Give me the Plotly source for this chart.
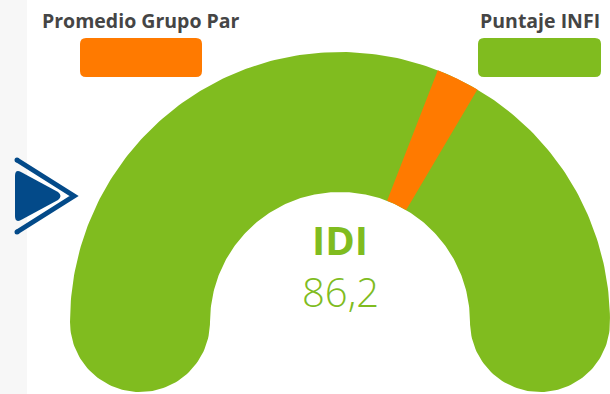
import numpy as np
import plotly.graph_objects as go

# --- data ---------------------------------------------------------------
indicator = ["IDI"]
score_infi = [86.2]            # Puntaje INFI
group_average = [64.4]         # Promedio Grupo Par
scale_limits = [0, 100]
series_names = ["Promedio Grupo Par", "Puntaje INFI"]

# --- styling ------------------------------------------------------------
GREEN = "#80BC1F"
ORANGE = "#FF7A00"
BLUE = "#034A89"
TEXT = "#454545"
W, H = 610, 394

# gauge geometry (pixel-sized data units, y axis pointing up)
CX, CY = 340, H - 322
R_OUT, R_IN = 270, 130
R_CAP = (R_OUT - R_IN) / 2
R_MID = (R_OUT + R_IN) / 2
MARK_HALF = 2.6  # half width of the average marker, in scale units


def angle_of(v):
    lo, hi = scale_limits
    return np.pi * (1 - (v - lo) / (hi - lo))


def track_path():
    a = np.linspace(np.pi, 0, 200)
    xs = list(CX + R_OUT * np.cos(a))
    ys = list(CY + R_OUT * np.sin(a))
    # right rounded end
    c = np.linspace(0, -np.pi, 80)
    xs += list(CX + R_MID + R_CAP * np.cos(c))
    ys += list(CY + R_CAP * np.sin(c))
    a = np.linspace(0, np.pi, 200)
    xs += list(CX + R_IN * np.cos(a))
    ys += list(CY + R_IN * np.sin(a))
    # left rounded end
    xs += list(CX - R_MID + R_CAP * np.cos(c))
    ys += list(CY + R_CAP * np.sin(c))
    return xs, ys


def wedge_path(v0, v1):
    a = np.linspace(angle_of(v0), angle_of(v1), 30)
    xs = list(CX + R_OUT * np.cos(a)) + list(CX + R_IN * np.cos(a[::-1]))
    ys = list(CY + R_OUT * np.sin(a)) + list(CY + R_IN * np.sin(a[::-1]))
    return xs + [xs[0]], ys + [ys[0]]


fig = go.Figure()

tx, ty = track_path()
fig.add_trace(go.Scatter(x=tx, y=ty, mode="lines", fill="toself",
                         fillcolor=GREEN, line=dict(width=0, color=GREEN),
                         hoverinfo="skip", showlegend=False))

mx, my = wedge_path(group_average[0] - MARK_HALF, group_average[0] + MARK_HALF)
fig.add_trace(go.Scatter(x=mx, y=my, mode="lines", fill="toself",
                         fillcolor=ORANGE, line=dict(width=0, color=ORANGE),
                         hoverinfo="skip", showlegend=False))


def py(y):
    return H - y


shapes = [
    # light side strip
    dict(type="rect", x0=0, x1=27, y0=0, y1=H, fillcolor="#F7F7F7",
         line_width=0, layer="below"),
]


def rounded_rect(x0, y0, x1, y1, r, color):
    path = (f"M {x0+r},{py(y0)} L {x1-r},{py(y0)} Q {x1},{py(y0)} {x1},{py(y0+r)} "
            f"L {x1},{py(y1-r)} Q {x1},{py(y1)} {x1-r},{py(y1)} "
            f"L {x0+r},{py(y1)} Q {x0},{py(y1)} {x0},{py(y1-r)} "
            f"L {x0},{py(y0+r)} Q {x0},{py(y0)} {x0+r},{py(y0)} Z")
    return dict(type="path", path=path, fillcolor=color, line_width=0)


# legend swatches
shapes.append(rounded_rect(80, 38, 202, 77, 6, ORANGE))
shapes.append(rounded_rect(478, 38, 601, 77, 6, GREEN))

# navigation arrow
tri = (f"M 15,{py(176)} Q 15,{py(169)} 21,{py(172)} L 58,{py(192)} "
       f"Q 63,{py(196)} 58,{py(200)} L 21,{py(220)} Q 15,{py(223)} 15,{py(216)} Z")
shapes.append(dict(type="path", path=tri, fillcolor=BLUE, line_width=0))
chev = f"M 17,{py(160)} L 74,{py(196)} L 17,{py(232)}"
shapes.append(dict(type="path", path=chev, line=dict(color=BLUE, width=5)))
for (x, y) in [(17, 160), (17, 232)]:
    shapes.append(dict(type="circle", x0=x - 2.5, x1=x + 2.5, y0=py(y) - 2.5,
                       y1=py(y) + 2.5, fillcolor=BLUE, line_width=0))

annotations = [
    dict(x=140.5, y=py(20), text=f"<b>{series_names[0]}</b>", showarrow=False,
         font=dict(family="Open Sans", size=19.5, color=TEXT), xanchor="center",
         yanchor="middle"),
    dict(x=540, y=py(20), text=f"<b>{series_names[1]}</b>", showarrow=False,
         font=dict(family="Open Sans", size=19.5, color=TEXT), xanchor="center",
         yanchor="middle"),
    dict(x=CX, y=py(239), text=f"<b>{indicator[0]}</b>", showarrow=False,
         font=dict(family="Open Sans", size=40, color=GREEN), xanchor="center",
         yanchor="middle"),
    dict(x=CX, y=py(291), text=f"{score_infi[0]:.1f}".replace(".", ","),
         showarrow=False,
         font=dict(family="Open Sans", size=40, color=GREEN, weight=300),
         xanchor="center", yanchor="middle"),
]

fig.update_layout(
    width=W, height=H, margin=dict(l=0, r=0, t=0, b=0),
    paper_bgcolor="white", plot_bgcolor="white",
    xaxis=dict(range=[0, W], visible=False, fixedrange=True),
    yaxis=dict(range=[0, H], visible=False, fixedrange=True),
    shapes=shapes, annotations=annotations, showlegend=False,
)

fig.write_html("out.html")
